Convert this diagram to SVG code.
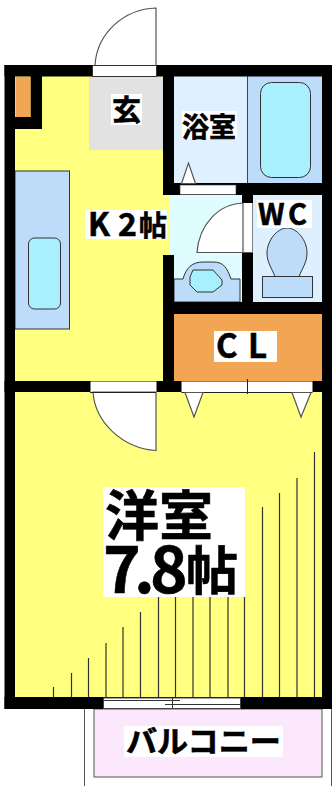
<svg xmlns="http://www.w3.org/2000/svg" width="334" height="786" viewBox="0 0 334 786">
<style>
.w{fill:#000}.y{fill:#ffff80}.b{fill:#bcdcf9;stroke:#333;stroke-width:1}.c{fill:#a8f0fe;stroke:#333;stroke-width:1}
.d{fill:#fff;stroke:#555;stroke-width:1.200}.o{fill:#f2a654}.l{fill:#fff}
.t{font-family:"Noto Sans CJK JP","Liberation Sans",sans-serif;font-weight:700;fill:#000;stroke:#000;stroke-width:.6}
.h{stroke:#333;stroke-width:1.200;fill:none}
</style>
<rect width="334" height="786" fill="#fff"/>
<g id="balcony">
<path d="M84.500 709V786M331.500 709V786" fill="none" stroke="#555"/>
<rect x="94" y="709" width="228" height="68" fill="#fce8fc" stroke="#555" stroke-width="1"/>
<rect class="l" x="124" y="726" width="159" height="31"/>
<text class="t" x="126" y="752" font-size="30" textLength="155" lengthAdjust="spacingAndGlyphs">バルコニー</text>
</g>
<g id="kitchen">
<rect class="y" x="15" y="76" width="155" height="305"/>
<rect x="15" y="171" width="54.500" height="158" fill="#bcdcf9" stroke="#333" stroke-width="1"/>
<rect class="c" x="28.500" y="238" width="32" height="71" rx="6"/>
<rect class="l" x="85" y="210" width="82" height="29"/>
<text class="t" x="88" y="236" font-size="32">K<tspan x="118">2</tspan><tspan x="139" font-size="28">帖</tspan></text>
</g>
<g id="entrance">
<rect x="89" y="77" width="74" height="73" fill="#e2e2e2"/>
<rect class="l" x="111" y="94" width="31" height="31"/>
<text class="t" x="112" y="121" font-size="29">玄</text>
</g>
<g id="bath">
<rect x="174" y="76" width="73.500" height="107" fill="#dff0fe"/>
<rect x="247.500" y="76" width="75" height="107" fill="#bcdcf9"/>
<path d="M247.500 76V183" stroke="#444" stroke-width="1"/>
<rect class="c" x="260.500" y="82.500" width="50" height="95" rx="11"/>
<rect class="l" x="182" y="111" width="55" height="28"/>
<text class="t" x="182" y="137" font-size="27">浴室</text>
</g>
<g id="washroom">
<rect x="170" y="195" width="73" height="60" fill="#dffdfe"/>
<rect x="174" y="255" width="69" height="47" fill="#dffdfe"/>
<path d="M174 279H183C186 268 192 262 203 262H213C224 262 227 268 231 279H240V302H174Z" fill="#bcdcf9" stroke="#333"/>
<path d="M193 270H213L222 280V285L213 292H197L190 285V277Z" class="c"/>
</g>
<g id="wc">
<rect x="253" y="195" width="69.500" height="107" fill="#deeffd"/>
<path d="M275 277C272 268 267 263 267 253C267 241 277 228 287 228C297 228 307 240 307 253C307 263 302 268 299 277Z" class="b"/>
<rect class="b" x="262.500" y="276.500" width="50" height="21"/>
<rect class="l" x="257" y="200" width="55" height="28"/>
<text class="t" x="258" y="225" font-size="29">W<tspan x="288">C</tspan></text>
</g>
<g id="closet">
<rect class="o" x="174" y="314" width="148.500" height="67"/>
<rect class="l" x="214" y="331" width="63" height="31"/>
<text class="t" x="216" y="358" font-size="33">C<tspan x="248">L</tspan></text>
</g>
<g id="room">
<rect class="y" x="15" y="392" width="307.500" height="305"/>
<path class="h" d="M53.500 697V687M71.500 697V673M88.500 697V658M106 697V643M123 697V627M140.500 697V612M158.500 697V597M175.500 697V597M193 697V597M210 697V597M228 697V597M244.500 697V597M262.500 697V507M279.500 697V493M297 697V478M314.500 697V452"/>
<rect class="l" x="103" y="487" width="142" height="110"/>
<text class="t" x="105" y="536" font-size="54">洋室</text>
<text class="t" x="103" y="593" font-size="64">7<tspan x="134">.</tspan><tspan x="150">8</tspan><tspan x="186" dy="-3" font-size="52">帖</tspan></text>
</g>
<g id="walls">
<rect class="w" x="4.500" y="65" width="327.500" height="11.500"/>
<rect class="w" x="4.500" y="65" width="10.500" height="644"/>
<rect class="w" x="322" y="65" width="10" height="644"/>
<rect class="w" x="4.500" y="697" width="327.500" height="12"/>
<rect class="w" x="4.500" y="381" width="327.500" height="11"/>
<rect class="w" x="15" y="117" width="27" height="12"/>
<rect class="w" x="30.500" y="76" width="11.500" height="53"/>
<rect class="o" x="15.500" y="77" width="15" height="40"/>
<rect class="w" x="163" y="65" width="11" height="130"/>
<rect class="w" x="163" y="183" width="169" height="12"/>
<rect class="w" x="242" y="183" width="11" height="130"/>
<rect class="w" x="163" y="302" width="169" height="12"/>
<rect class="w" x="163" y="255" width="11" height="137"/>
</g>
<g id="openings">
<rect x="92.500" y="65.500" width="64" height="11" fill="#fff" stroke="#333" stroke-width="1"/>
<path class="d" d="M95 65C97 33 124 9 156 8V65" fill="#fff"/>
<rect x="180" y="185" width="56" height="9.500" fill="#fff" stroke="#333" stroke-width=".6"/>
<path d="M181.500 183.500L188.500 163L195.500 183.500Z" class="d" stroke-width="1"/>
<rect x="243" y="203" width="9.500" height="50" fill="#fff"/>
<path class="d" d="M197 252.500C199 225 218 204 243 203V252.500Z"/>
<path d="M243 252.500H252.500" stroke="#555"/>
<rect x="90.500" y="381.500" width="66" height="10.500" fill="#fff"/>
<path class="d" d="M93 392C95 422 122 448 156 450.500V392Z"/>
<rect x="181.500" y="381.500" width="131" height="10.500" fill="#fff"/>
<path d="M90 392.500H156M181.500 392.500H312.500M247.500 379V394" stroke="#222" fill="none"/>
<path class="d" d="M185 392.500L194 417L203 392.500Z"/>
<path class="d" d="M292 392.500L301 417L311 392.500Z"/>
<rect x="103.500" y="698" width="137" height="10.500" fill="#fff" stroke="#444" stroke-width="1"/>
<path d="M103.500 700.500H180M165 704.500H240.500M172.500 698V708" stroke="#333" fill="none"/>
</g>
</svg>
